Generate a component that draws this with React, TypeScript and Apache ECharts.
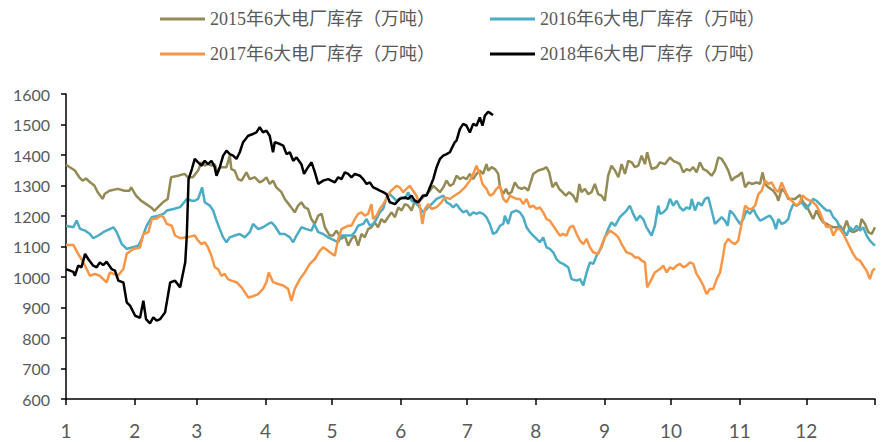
import React, { useEffect, useRef } from "react";
import * as echarts from "echarts";

// Day-of-year positions of the month starts (x axis ticks)
const monthStarts = [0, 31, 59, 90, 120, 151, 181, 212, 243, 273, 304, 334, 365];
const monthLabels = ["1", "2", "3", "4", "5", "6", "7", "8", "9", "10", "11", "12"];

const seriesNames = [
  "2015年6大电厂库存（万吨）",
  "2016年6大电厂库存（万吨）",
  "2017年6大电厂库存（万吨）",
  "2018年6大电厂库存（万吨）",
];
const seriesColors = ["#948A54", "#4BACC6", "#F79646", "#000000"];

// [day of year, stock (10k tonnes)]
const s2015: [number, number][] = [
  [0, 1368], [4, 1349], [6, 1327], [7.5, 1316], [9, 1323], [11, 1310], [12.8, 1300], [14.3, 1278], [16.6, 1256], [17.4, 1272],
  [19.6, 1283], [23.4, 1289], [26.4, 1283], [28.6, 1283], [29.4, 1294], [31.6, 1267], [33.9, 1250], [36.2, 1239], [38.4, 1228], [39.9, 1217],
  [41.4, 1228], [43.7, 1245], [45.9, 1256], [47.4, 1327], [50.5, 1332], [53.5, 1338], [55, 1327], [57.2, 1327], [59.6, 1349], [61.1, 1376],
  [62.6, 1365], [64.1, 1370], [65.6, 1365], [67.1, 1370], [68.3, 1343], [69.4, 1360], [70.9, 1360], [72.4, 1360], [73.9, 1398], [74.6, 1354],
  [76.1, 1349], [77.6, 1321], [79.2, 1316], [81.4, 1343], [82.9, 1321], [85.2, 1327], [87.4, 1310], [88.9, 1316], [90.4, 1327], [91.9, 1305],
  [93.4, 1316], [94.9, 1294], [97.2, 1278], [98.7, 1256], [101, 1234], [103.2, 1212], [104.7, 1234], [106.2, 1245], [107.7, 1228], [109.2, 1223],
  [110.7, 1190], [112.2, 1174], [113.8, 1201], [115.3, 1207], [116.8, 1163], [119, 1136], [120.5, 1136], [122, 1152], [124.3, 1125], [125.8, 1136],
  [127.3, 1103], [128.8, 1125], [130.3, 1136], [131.8, 1103], [133.3, 1141], [134.8, 1130], [136.3, 1157], [137.8, 1163], [139.3, 1179], [140.8, 1163],
  [142.3, 1190], [143.8, 1179], [145.3, 1196], [146.9, 1212], [148.4, 1196], [149.9, 1228], [151.4, 1218], [152.9, 1239], [154.4, 1234], [155.9, 1218],
  [157.4, 1250], [158.9, 1245], [161.1, 1261], [162.7, 1272], [164.2, 1283], [165.7, 1299], [167.2, 1289], [168.7, 1278], [170.2, 1294], [171.7, 1316],
  [173.2, 1299], [174.7, 1305], [176.2, 1332], [177.7, 1321], [179.2, 1327], [180.7, 1321], [182.2, 1338], [183.7, 1321], [185.2, 1338], [186.7, 1349],
  [188.2, 1338], [189.7, 1370], [190.5, 1349], [192, 1360], [193.5, 1354], [195, 1338], [195.8, 1294], [197.3, 1272], [198.5, 1289], [199.5, 1272],
  [201, 1278], [202.5, 1310], [204, 1294], [205.5, 1289], [207, 1294], [208.5, 1283], [210.8, 1338], [213, 1349], [215.3, 1354], [216.8, 1360],
  [218, 1343], [219.5, 1294], [221, 1310], [222.5, 1289], [224, 1278], [225.5, 1267], [227, 1278], [228.8, 1267], [230.4, 1245], [231.6, 1305],
  [232.6, 1278], [234.1, 1289], [235.6, 1272], [237.1, 1278], [238.6, 1305], [240.1, 1272], [241.6, 1267], [243.1, 1250], [244.6, 1332], [246.1, 1365],
  [247.7, 1349], [249.2, 1327], [250.7, 1370], [252.2, 1338], [253.7, 1381], [255.2, 1376], [256.7, 1360], [258.2, 1365], [259.7, 1398], [261.2, 1370],
  [262.2, 1409], [264.2, 1354], [266.5, 1360], [268, 1376], [270.2, 1370], [272.5, 1392], [274, 1381], [275.5, 1376], [277, 1370], [278.5, 1343],
  [280, 1354], [281.5, 1349], [283, 1360], [284.5, 1343], [286, 1376], [287.5, 1354], [289, 1349], [291.3, 1332], [292.8, 1349], [294.3, 1392],
  [295.8, 1387], [297.3, 1370], [298.8, 1349], [300.3, 1316], [301.8, 1327], [303.3, 1332], [304.9, 1343], [306.4, 1294], [307.9, 1310], [309.4, 1305],
  [311.6, 1310], [313.1, 1305], [314.3, 1343], [315.4, 1305], [316.9, 1294], [319.1, 1283], [320.6, 1267], [321.4, 1250], [322.9, 1289], [324.4, 1278],
  [325.9, 1256], [328.9, 1256], [331.1, 1269], [332.6, 1245], [334.1, 1234], [335.6, 1212], [337.1, 1190], [338.6, 1218], [340.1, 1196], [341.6, 1179],
  [343.2, 1174], [344.7, 1168], [346.2, 1163], [347.7, 1163], [349.2, 1168], [350.7, 1152], [352.2, 1185], [353.7, 1152], [355.2, 1147], [356.7, 1152],
  [358.2, 1163], [358.9, 1190], [360.5, 1174], [362, 1147], [363.5, 1141], [365, 1163],
];

const s2016: [number, number][] = [
  [0, 1168], [3.3, 1163], [4.8, 1185], [6.3, 1158], [8.6, 1152], [10.8, 1141], [12.3, 1127], [14.6, 1136], [16.8, 1147], [19.9, 1158],
  [21.4, 1163], [22.9, 1147], [25.1, 1109], [27.4, 1092], [29.7, 1097], [32.7, 1103], [34.2, 1125], [36.4, 1168], [38.7, 1196], [41.7, 1201],
  [44, 1207], [45.5, 1218], [48.5, 1223], [51.5, 1229], [54.5, 1256], [56.8, 1250], [58.1, 1250], [59.6, 1256], [61.4, 1294], [62.6, 1245],
  [64.9, 1234], [66.4, 1218], [67.9, 1185], [69.4, 1157], [70.9, 1130], [72.4, 1114], [73.9, 1130], [76.1, 1136], [78.4, 1141], [80.7, 1130],
  [82.9, 1147], [84.4, 1174], [86.7, 1157], [88.9, 1163], [91.2, 1174], [92.7, 1179], [94.2, 1168], [96.5, 1141], [98.7, 1141], [101, 1130],
  [102.5, 1114], [104, 1136], [106.2, 1163], [108.5, 1157], [110.7, 1152], [112, 1174], [113.8, 1147], [116, 1141], [118.3, 1130], [121.3, 1119],
  [122.8, 1114], [124.3, 1136], [126.5, 1136], [128.8, 1136], [130.3, 1147], [131.8, 1168], [134.1, 1174], [135.6, 1190], [137.1, 1168], [138.6, 1174],
  [140.1, 1190], [141.6, 1212], [143.1, 1223], [144.6, 1261], [146.1, 1272], [147.6, 1261], [149.1, 1250], [151.4, 1261], [152.9, 1256], [154.4, 1278],
  [155.9, 1250], [157.4, 1245], [158.9, 1234], [161.1, 1212], [162.7, 1223], [164.2, 1234], [165.7, 1245], [167.2, 1256], [168.7, 1261], [170.2, 1267],
  [171.7, 1245], [173.2, 1239], [174.7, 1228], [176.2, 1239], [177.7, 1223], [179.2, 1212], [180.7, 1218], [182.2, 1201], [183.7, 1212], [185.2, 1207],
  [186.7, 1212], [188.2, 1207], [189.7, 1196], [191.2, 1174], [192.7, 1141], [194.2, 1147], [195.8, 1168], [197.3, 1174], [198, 1201], [199.5, 1174],
  [201, 1212], [203.3, 1218], [204.8, 1212], [206.3, 1196], [207.8, 1163], [209.3, 1147], [210.8, 1136], [212.3, 1125], [213.8, 1114], [215.3, 1130],
  [216.8, 1097], [218.3, 1092], [219.8, 1081], [221.3, 1059], [222.8, 1048], [224.3, 1043], [226.6, 1032], [228.1, 993], [230.4, 988], [231.9, 993],
  [233.4, 972], [234.9, 1015], [236.4, 1048], [237.9, 1043], [239.4, 1070], [241.6, 1097], [243.1, 1130], [244.6, 1157], [246.1, 1179], [247.7, 1168],
  [249.9, 1196], [251.4, 1207], [252.9, 1218], [254.4, 1234], [255.9, 1207], [257.4, 1185], [258.9, 1201], [260.4, 1190], [261.9, 1163], [264.2, 1136],
  [265.7, 1168], [267.2, 1234], [268, 1207], [269.5, 1212], [271, 1223], [272.5, 1256], [274, 1234], [275.5, 1250], [277, 1228], [278.5, 1218],
  [280, 1228], [281.5, 1223], [282.3, 1256], [283.8, 1218], [285.3, 1245], [286.8, 1234], [288.3, 1256], [289.8, 1261], [291.3, 1218], [292.8, 1174],
  [294.3, 1185], [295.8, 1196], [297.3, 1185], [298.5, 1168], [299.6, 1218], [301.1, 1207], [302.6, 1190], [304.1, 1174], [305.6, 1190], [307.1, 1218],
  [308.6, 1207], [310.1, 1223], [311.6, 1201], [313.1, 1185], [314.6, 1190], [316.1, 1196], [317.6, 1201], [319.1, 1185], [320.3, 1157], [321.4, 1190],
  [322.9, 1174], [324.4, 1179], [325.9, 1190], [326.6, 1212], [328.1, 1239], [329.6, 1234], [331.9, 1245], [334.1, 1223], [335.6, 1239], [337.1, 1256],
  [338.6, 1250], [340.1, 1239], [341.6, 1228], [343.2, 1218], [344.7, 1218], [346.2, 1196], [347.7, 1185], [349.2, 1163], [350.7, 1152], [352.2, 1136],
  [353.7, 1163], [355.2, 1152], [356.7, 1168], [358.2, 1152], [359.7, 1163], [361.2, 1136], [362.7, 1119], [364.2, 1108], [365, 1103],
];

const s2017: [number, number][] = [
  [0, 1105], [3.3, 1105], [5.5, 1076], [7.8, 1048], [9.3, 1026], [10.8, 1004], [13, 1010], [15.3, 1004], [16.8, 993], [18.3, 982],
  [19.8, 1015], [21.4, 1010], [23.6, 1006], [25.9, 1026], [27.4, 1076], [30.4, 1092], [33.4, 1097], [34.9, 1141], [37.2, 1147], [38.7, 1190],
  [41, 1192], [42.5, 1201], [44, 1196], [45.5, 1174], [47.7, 1168], [49.2, 1136], [51.5, 1127], [54.5, 1130], [56.8, 1134], [58.1, 1136],
  [59.6, 1119], [61.1, 1108], [62.6, 1114], [64.1, 1097], [65.6, 1070], [67.1, 1032], [68.6, 1026], [70.1, 1004], [71.6, 1010], [73.1, 993],
  [74.6, 988], [76.9, 983], [79.2, 966], [80.7, 950], [82.2, 933], [84.4, 937], [86.7, 944], [88.9, 961], [90.4, 983], [91.5, 1015],
  [93.4, 983], [95.7, 977], [98, 972], [100.2, 961], [101.7, 922], [103.2, 961], [105.5, 993], [107.7, 1015], [110, 1043], [112.3, 1059],
  [114.5, 1086], [116, 1097], [118.3, 1086], [119, 1081], [121.3, 1070], [122.8, 1125], [124.3, 1157], [125.8, 1163], [127.3, 1168], [128.8, 1168],
  [130.3, 1190], [131.8, 1207], [133.3, 1212], [134.8, 1201], [136.3, 1207], [137.8, 1239], [138.6, 1190], [140.1, 1201], [141.6, 1223], [143.1, 1239],
  [144.6, 1256], [146.1, 1278], [147.6, 1289], [149.1, 1299], [150.6, 1294], [152.1, 1278], [153.6, 1289], [155.1, 1299], [156.6, 1283], [158.1, 1267],
  [159.6, 1234], [160.8, 1174], [161.9, 1223], [163.4, 1239], [165, 1223], [167.2, 1229], [169.4, 1245], [170.9, 1261], [173.2, 1256], [175.4, 1267],
  [177.7, 1278], [180, 1294], [182.2, 1316], [183.7, 1338], [185.2, 1365], [186.7, 1338], [187.9, 1305], [189.7, 1289], [191.2, 1267], [192.7, 1272],
  [194.2, 1289], [195.8, 1299], [197.3, 1256], [198.8, 1245], [200.3, 1267], [201.8, 1261], [203.3, 1256], [204.8, 1256], [206.3, 1239], [207.8, 1256],
  [209.3, 1228], [210.8, 1234], [212.3, 1223], [213.8, 1228], [215.3, 1212], [216.8, 1190], [218.3, 1185], [219.8, 1168], [221.3, 1152], [222.8, 1136],
  [224.3, 1141], [225.8, 1136], [227.3, 1163], [228.8, 1168], [230.4, 1141], [231.9, 1119], [233.4, 1108], [234.9, 1125], [236.4, 1097], [237.9, 1081],
  [240.1, 1075], [241.6, 1103], [243.1, 1130], [245.4, 1152], [247.7, 1141], [249.2, 1130], [250.7, 1108], [252.9, 1081], [255.2, 1075], [256.7, 1064],
  [258.2, 1064], [259.7, 1054], [261.2, 1048], [262.2, 966], [264.2, 993], [265.7, 1015], [268, 1026], [269.5, 1037], [271, 1015], [272.5, 1032],
  [274, 1026], [275.5, 1037], [277, 1043], [278.5, 1032], [280, 1037], [281.5, 1048], [283, 1043], [284.5, 1010], [286, 993], [287.5, 972],
  [289, 944], [290.5, 961], [292, 961], [293.6, 993], [295.1, 1015], [296.6, 1075], [297.3, 1108], [298.8, 1125], [300.3, 1114], [301.8, 1108],
  [303.3, 1119], [304.9, 1179], [306.4, 1234], [307.9, 1223], [309.4, 1223], [310.9, 1234], [312.4, 1272], [313.9, 1283], [315.4, 1316], [316.9, 1305],
  [318.4, 1310], [319.9, 1289], [321.4, 1278], [322.9, 1310], [324.4, 1283], [325.9, 1261], [328.1, 1245], [329.6, 1234], [331.1, 1245], [332.3, 1267],
  [334.1, 1256], [335.6, 1250], [337.1, 1245], [338.6, 1234], [340.1, 1212], [341.6, 1185], [343.2, 1163], [344.7, 1168], [346.2, 1136], [347.7, 1157],
  [349.2, 1157], [350.7, 1141], [352.2, 1119], [353.7, 1097], [355.2, 1075], [356.7, 1059], [358.2, 1054], [359.7, 1037], [361.2, 1021], [362.7, 993],
  [363.9, 1021], [365, 1028],
];

const s2018: [number, number][] = [
  [0, 1026], [3.3, 1017], [4, 1004], [5.5, 1037], [7, 1032], [8.6, 1076], [10, 1059], [12.3, 1037], [13.8, 1032], [15.3, 1048],
  [16.8, 1039], [18.3, 1050], [20.6, 1026], [22.1, 1021], [23.6, 988], [25.9, 982], [27.4, 917], [28.9, 906], [31.2, 873], [33.4, 866],
  [34.9, 922], [36.1, 862], [37.9, 848], [39.4, 868], [40.9, 857], [42.5, 862], [44.7, 884], [47, 982], [49.2, 988], [51.5, 966],
  [53.8, 1048], [54.5, 1136], [55.3, 1321], [56.8, 1354], [58.1, 1387], [59.6, 1376], [61.1, 1365], [62.6, 1381], [64.1, 1370], [65.6, 1381],
  [67.1, 1360], [67.9, 1332], [69.4, 1360], [70.9, 1398], [72.4, 1414], [73.9, 1403], [75.4, 1398], [76.9, 1387], [78.4, 1409], [79.9, 1442],
  [82.2, 1463], [84.4, 1469], [85.9, 1474], [87.4, 1491], [88.9, 1474], [90.4, 1480], [91.9, 1463], [93.4, 1409], [94.2, 1442], [96.5, 1436],
  [98, 1431], [99.5, 1403], [101, 1409], [102.5, 1381], [104, 1392], [106.2, 1370], [107.4, 1338], [109.2, 1360], [110.8, 1376], [112.3, 1343],
  [113.8, 1305], [116, 1316], [118.3, 1321], [121.3, 1310], [122.8, 1327], [124.3, 1321], [125.8, 1343], [127.3, 1338], [128.8, 1327], [130.3, 1338],
  [132.6, 1332], [134.1, 1321], [135.6, 1305], [137.1, 1310], [138.6, 1294], [140.1, 1289], [141.6, 1283], [143.1, 1278], [144.6, 1272], [146.1, 1245],
  [148.4, 1239], [150.6, 1256], [152.9, 1261], [154.4, 1256], [155.9, 1267], [157.4, 1250], [158.9, 1245], [161.1, 1267], [162.7, 1267], [164.2, 1294],
  [165.7, 1321], [167.2, 1360], [168.7, 1387], [170.2, 1398], [171.7, 1403], [173.2, 1409], [173.9, 1420], [175.4, 1442], [176.2, 1447], [177.7, 1485],
  [179.2, 1502], [180.7, 1496], [182.2, 1474], [183.7, 1502], [185.2, 1496], [186.7, 1523], [187.9, 1496], [189, 1529], [190.5, 1542], [192, 1534],
  [192.7, 1531],
];

const seriesData = [s2015, s2016, s2017, s2018];

const labelFont = "Lato, 'Open Sans', sans-serif";
const legendFont = "'Liberation Serif', 'Noto Sans CJK SC', serif";

export default function App() {
  const ref = useRef<HTMLDivElement>(null);

  useEffect(() => {
    if (!ref.current) return;
    const chart = echarts.init(ref.current, null, { renderer: "svg" });
    const legendPos = [
      { left: 160, top: 10 },
      { left: 490, top: 10 },
      { left: 160, top: 45 },
      { left: 490, top: 45 },
    ];
    chart.setOption({
      animation: false,
      backgroundColor: "#ffffff",
      legend: seriesNames.map((name, i) => ({
        data: [name],
        left: legendPos[i].left,
        top: legendPos[i].top,
        padding: 0,
        icon: "rect",
        itemWidth: 45,
        itemHeight: 3,
        itemGap: 6,
        selectedMode: false,
        textStyle: { fontSize: 18, color: "#595959", fontFamily: legendFont },
      })),
      grid: { left: 66, right: 7, top: 94, bottom: 43, containLabel: false },
      xAxis: {
        type: "value",
        min: 0,
        max: 365,
        splitLine: { show: false },
        axisLine: { show: true, lineStyle: { color: "#000000", width: 1.5 } },
        axisTick: {
          show: true,
          customValues: monthStarts,
          length: 6,
          lineStyle: { color: "#000000", width: 1.5 },
        },
        axisLabel: {
          customValues: monthStarts.slice(0, 12),
          formatter: (v: number) => monthLabels[monthStarts.indexOf(v)] ?? "",
          fontSize: 19,
          color: "#595959",
          fontFamily: labelFont,
          margin: 22,
        },
      },
      yAxis: {
        type: "value",
        min: 600,
        max: 1600,
        interval: 100,
        splitLine: { show: false },
        axisLine: { show: true, lineStyle: { color: "#000000", width: 1.5 } },
        axisTick: { show: true, length: 5, lineStyle: { color: "#000000", width: 1.5 } },
        axisLabel: {
          fontSize: 16,
          color: "#595959",
          fontFamily: labelFont,
          margin: 16,
          formatter: (v: number) => String(v),
        },
      },
      series: seriesNames.map((name, i) => ({
        name,
        type: "line",
        data: seriesData[i],
        showSymbol: false,
        symbol: "none",
        color: seriesColors[i],
        lineStyle: { width: 2.5, color: seriesColors[i] },
        z: 2 + i,
      })),
    });
    return () => chart.dispose();
  }, []);

  return (
    <div
      ref={ref}
      style={{ position: "absolute", left: 0, top: 0, width: 882, height: 442 }}
    />
  );
}
